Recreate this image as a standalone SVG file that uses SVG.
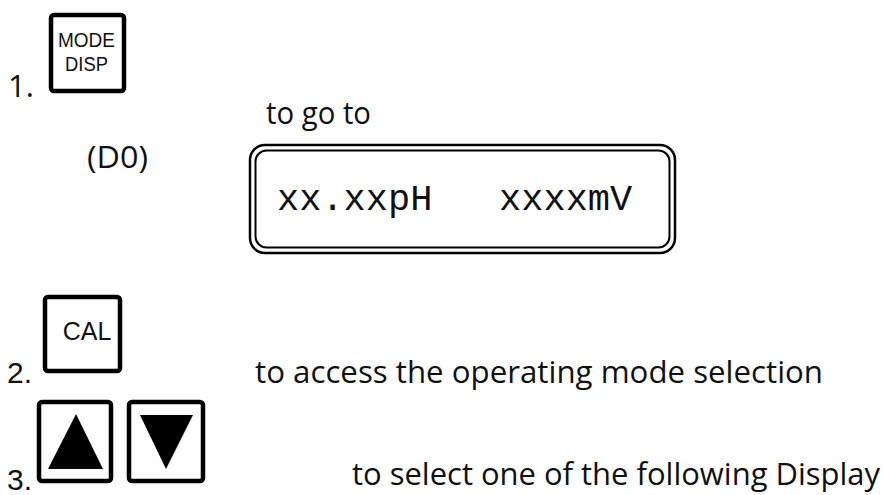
<svg xmlns="http://www.w3.org/2000/svg" width="884" height="495" viewBox="0 0 884 495">
<style>
.key{fill:#fff;stroke:#000;stroke-width:4.5;}
.kt{font-family:"Liberation Sans",Arial,sans-serif;fill:#111;text-anchor:middle;}
.t{font-family:"Open Sans","Noto Sans",sans-serif;font-size:31px;fill:#111;}
.n{font-family:"Liberation Sans",Arial,sans-serif;font-size:30px;fill:#111;}
.lcd{fill:none;stroke:#000;}
.mono{font-family:"Liberation Mono","DejaVu Sans Mono",monospace;font-size:37px;fill:#111;}
</style>
<rect width="884" height="495" fill="#fff"/>
<g id="step1">
<text class="t" x="8" y="97" font-size="29">1.</text>
</g>
<g id="key-mode-disp">
<rect class="key" x="51" y="15" width="73" height="76" rx="3"/>
<text class="kt" x="86.5" y="47" font-size="20" textLength="57" lengthAdjust="spacingAndGlyphs">MODE</text>
<text class="kt" x="86.5" y="71" font-size="20" textLength="43" lengthAdjust="spacingAndGlyphs">DISP</text>
</g>
<g id="label-goto">
<text class="t" x="266" y="124" font-size="30" textLength="105" lengthAdjust="spacingAndGlyphs">to go to</text>
</g>
<g id="label-d0">
<text class="t" x="87" y="168" textLength="61" lengthAdjust="spacingAndGlyphs">(D0)</text>
</g>
<g id="lcd-display">
<rect class="lcd" x="250" y="145" width="425" height="108" rx="15" stroke-width="2.5"/>
<rect class="lcd" x="255.5" y="150.5" width="414" height="97" rx="11" stroke-width="2"/>
<text class="mono" x="277" y="210" xml:space="preserve">xx.xxpH   xxxxmV</text>
</g>
<g id="step2">
<text class="n" x="7" y="383">2.</text>
<text class="t" x="255" y="383" textLength="568" lengthAdjust="spacingAndGlyphs">to access the operating mode selection</text>
</g>
<g id="key-cal">
<rect class="key" x="45" y="297" width="75" height="74" rx="3"/>
<text class="kt" x="87" y="340" font-size="25">CAL</text>
</g>
<g id="step3">
<text class="n" x="7" y="490" font-size="28">3.</text>
<text class="t" x="352" y="485" textLength="528" lengthAdjust="spacingAndGlyphs">to select one of the following Display</text>
</g>
<g id="key-up">
<rect class="key" x="39" y="402" width="72" height="79" rx="3"/>
<polygon points="76,414 48,469 103,469" fill="#000"/>
</g>
<g id="key-down">
<rect class="key" x="129" y="402" width="74" height="79" rx="3"/>
<polygon points="140,415 193,415 166,469" fill="#000"/>
</g>
</svg>
